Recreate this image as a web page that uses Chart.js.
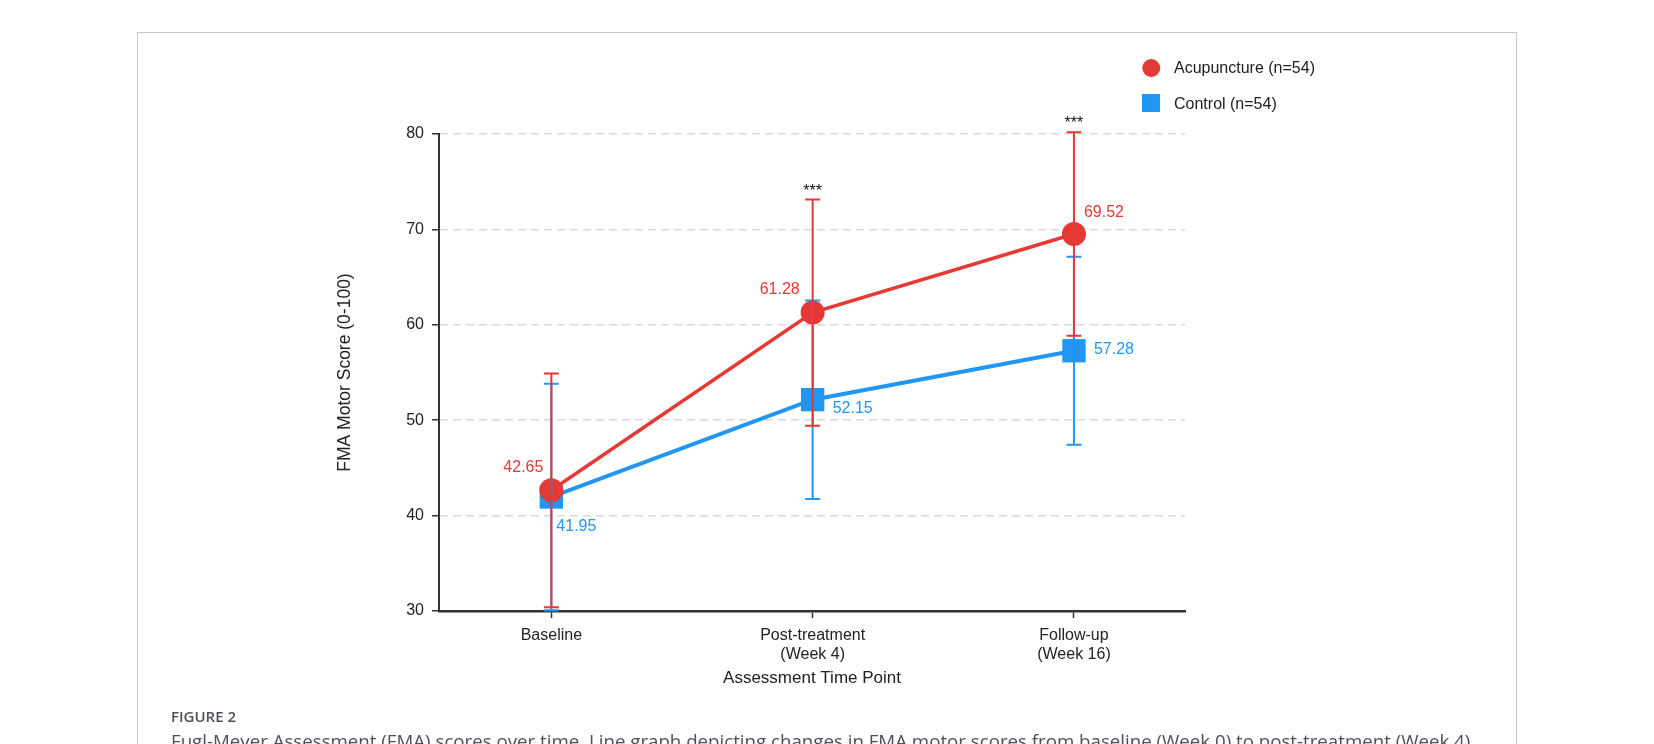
<!DOCTYPE html>
<html>
<head>
<meta charset="utf-8">
<title>FMA motor scores over time</title>
<script src="https://cdn.jsdelivr.net/npm/chart.js@4.4.1/dist/chart.umd.min.js"></script>
<style>
  html, body { margin: 0; padding: 0; background: #fff; }
  body { width: 1654px; height: 744px; position: relative; overflow: hidden; }
  .frame {
    position: absolute; left: 137px; top: 32px; width: 1380px; height: 780px;
    border: 1.5px solid #c6c6cc; box-sizing: border-box;
  }
  #chart { position: absolute; left: 0; top: 0; }
  .fig-label {
    position: absolute; left: 171px; top: 706px;
    font: 600 15px/20px 'Open Sans', sans-serif; color: #4f4f5a;
  }
  .caption {
    position: absolute; left: 171px; top: 729px; white-space: nowrap;
    font: 400 18.7px/24px 'Open Sans', sans-serif; color: #4f4f5a;
  }
</style>
</head>
<body>
<div class="frame"></div>
<canvas id="chart" width="1654" height="744"></canvas>
<div class="fig-label">FIGURE 2</div>
<div class="caption">Fugl-Meyer Assessment (FMA) scores over time. Line graph depicting changes in FMA motor scores from baseline (Week 0) to post-treatment (Week 4)</div>
<script>
// ------------------------------ DATA ------------------------------
const timePoints = [["Baseline"], ["Post-treatment", "(Week 4)"], ["Follow-up", "(Week 16)"]];
const acuMean = [42.65, 61.28, 69.52];
const acuSD = [12.25, 11.85, 10.67];
const ctrlMean = [41.95, 52.15, 57.28];
const ctrlSD = [11.87, 10.4, 9.86];
const significance = ["", "***", "***"];
const yTicks = [30, 40, 50, 60, 70, 80];

// ------------------------------ STYLE ------------------------------
const RED = '#e53935';
const BLUE = '#2196f3';
const FONT = "'Liberation Sans', Arial, sans-serif";

// where each value label sits relative to its point (px)
const acuLabelOffsets = [[-28, -23], [-33, -23], [30, -21]];
const ctrlLabelOffsets = [[25, 30], [40, 9], [40, -1]];

// ------------------------------ PLUGINS ------------------------------
const errorBars = {
  id: 'errorBars',
  afterDatasetsDraw(chart) {
    const { ctx, scales: { x, y } } = chart;
    // control first so the acupuncture bars sit on top
    [1, 0].forEach(di => {
      const ds = chart.data.datasets[di];
      ctx.save();
      ctx.strokeStyle = ds.borderColor;
      ctx.lineWidth = 2;
      ds.data.forEach((p, i) => {
        const px = x.getPixelForValue(p.x);
        const top = y.getPixelForValue(p.y + ds.sd[i]);
        const bot = y.getPixelForValue(p.y - ds.sd[i]);
        ctx.beginPath();
        ctx.moveTo(px, top); ctx.lineTo(px, bot);
        ctx.moveTo(px - 7.5, top); ctx.lineTo(px + 7.5, top);
        ctx.moveTo(px - 7.5, bot); ctx.lineTo(px + 7.5, bot);
        ctx.stroke();
      });
      ctx.restore();
    });
  }
};

const annotations = {
  id: 'annotations',
  afterDraw(chart) {
    const { ctx, scales: { x, y } } = chart;
    ctx.save();
    ctx.font = '16px ' + FONT;
    ctx.textAlign = 'center';
    ctx.textBaseline = 'middle';
    chart.data.datasets.forEach(ds => {
      ctx.fillStyle = ds.borderColor;
      ds.data.forEach((p, i) => {
        const [dx, dy] = ds.labelOffsets[i];
        ctx.fillText(p.y.toFixed(2), x.getPixelForValue(p.x) + dx, y.getPixelForValue(p.y) + dy);
      });
    });

    // significance stars above the acupuncture bars
    ctx.fillStyle = '#111';
    ctx.textBaseline = 'alphabetic';
    significance.forEach((s, i) => {
      if (!s) return;
      ctx.fillText(s, x.getPixelForValue(i), y.getPixelForValue(acuMean[i] + acuSD[i]) - 4);
    });

    // legend, top right
    const items = chart.data.datasets;
    ctx.textAlign = 'left';
    ctx.textBaseline = 'middle';
    ctx.fillStyle = items[0].borderColor;
    ctx.beginPath();
    ctx.arc(1151.3, 68, 9, 0, Math.PI * 2);
    ctx.fill();
    ctx.fillStyle = items[1].borderColor;
    ctx.fillRect(1142, 94, 18, 18);
    ctx.fillStyle = '#222';
    ctx.fillText(items[0].label, 1174, 69);
    ctx.fillText(items[1].label, 1174, 105);
    ctx.restore();
  }
};

// ------------------------------ CHART ------------------------------
new Chart(document.getElementById('chart'), {
  type: 'line',
  data: {
    datasets: [
      {
        label: 'Acupuncture (n=54)',
        data: acuMean.map((v, i) => ({ x: i, y: v })),
        sd: acuSD,
        labelOffsets: acuLabelOffsets,
        borderColor: RED,
        backgroundColor: RED,
        borderWidth: 3.5,
        pointStyle: 'circle',
        pointRadius: 12,
        pointHoverRadius: 12,
        pointBorderWidth: 0,
        clip: false
      },
      {
        label: 'Control (n=54)',
        data: ctrlMean.map((v, i) => ({ x: i, y: v })),
        sd: ctrlSD,
        labelOffsets: ctrlLabelOffsets,
        borderColor: BLUE,
        backgroundColor: BLUE,
        borderWidth: 4,
        pointStyle: 'rect',
        pointRadius: 16.5,
        pointHoverRadius: 16.5,
        pointBorderWidth: 0,
        clip: false
      }
    ]
  },
  options: {
    responsive: false,
    animation: false,
    events: [],
    layout: { padding: { left: 335, right: 469, top: 134, bottom: 0 } },
    plugins: {
      legend: { display: false },
      tooltip: { enabled: false }
    },
    scales: {
      x: {
        type: 'linear',
        min: -0.43,
        max: 2.425,
        afterBuildTicks: s => { s.ticks = timePoints.map((_, i) => ({ value: i })); },
        afterFit: s => { s.height = 133; },
        ticks: {
          callback: v => timePoints[v],
          font: { family: FONT, size: 16, lineHeight: 1.2 },
          color: '#222',
          padding: 8,
          maxRotation: 0,
          autoSkip: false
        },
        grid: { drawOnChartArea: false, tickLength: 7, tickColor: '#333', tickWidth: 1.5 },
        border: { color: '#333', width: 2.5 },
        title: {
          display: true,
          text: 'Assessment Time Point',
          font: { family: FONT, size: 17 },
          color: '#222',
          padding: { top: 0, bottom: 55.5 }
        }
      },
      y: {
        min: 30,
        max: 80,
        afterBuildTicks: s => { s.ticks = yTicks.map(v => ({ value: v })); },
        afterFit: s => { s.width = 104; },
        ticks: { font: { family: FONT, size: 16 }, color: '#222', padding: 8 },
        grid: {
          color: c => (c.tick && c.tick.value === 30) ? 'rgba(0,0,0,0)' : '#d9d9d9',
          lineWidth: 1.5,
          tickLength: 7,
          tickColor: '#333',
          tickWidth: 1.5
        },
        border: { color: '#333', width: 2, dash: [8, 5] },
        title: {
          display: true,
          text: 'FMA Motor Score (0-100)',
          font: { family: FONT, size: 17.5 },
          color: '#222',
          padding: 0
        }
      }
    }
  },
  plugins: [errorBars, annotations]
});
</script>
</body>
</html>
